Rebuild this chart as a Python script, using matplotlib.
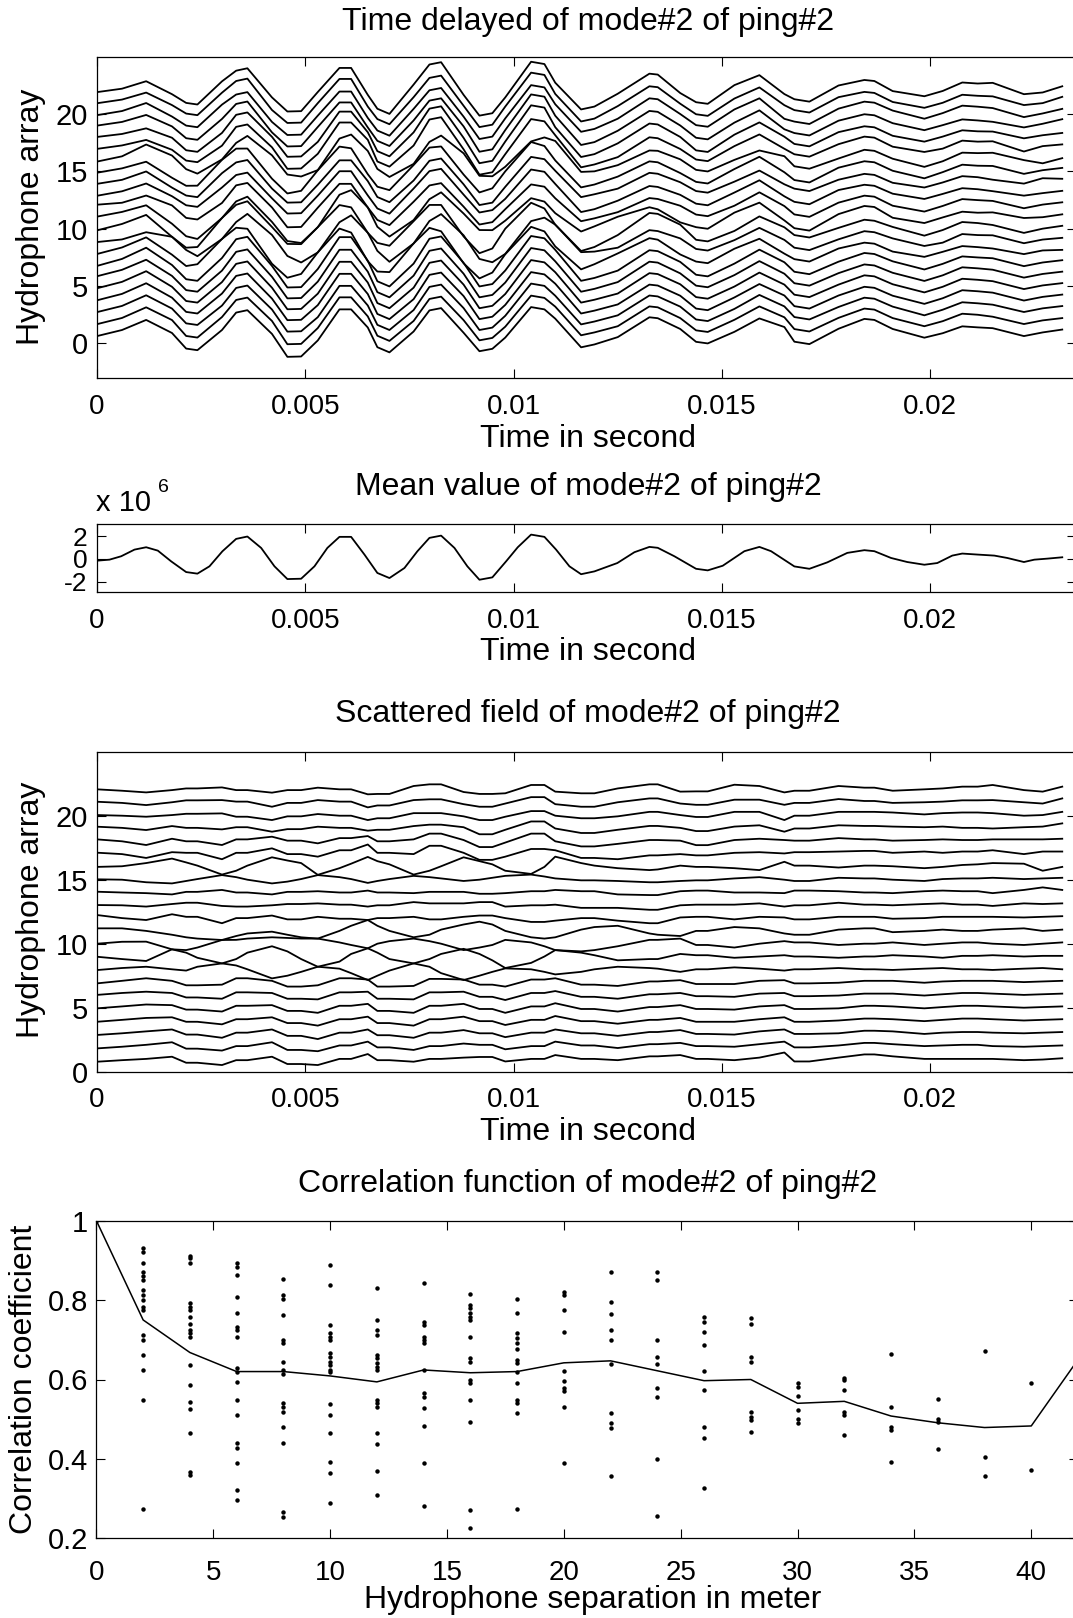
import matplotlib
matplotlib.use("Agg")
import matplotlib.pyplot as plt

W, H = 1073, 1618
plt.rcParams['font.family'] = ['Liberation Sans', 'DejaVu Sans']

# time grid (s) used for the stacked hydrophone traces
trace_time = [0, 0.0006, 0.00118, 0.0018, 0.00214, 0.00241, 0.003, 0.00334, 0.00361, 0.0042,
              0.00457, 0.0049, 0.0053, 0.00582, 0.0061, 0.0065, 0.00673, 0.00702, 0.0076, 0.00798,
              0.00826, 0.0088, 0.00918, 0.00949, 0.0098, 0.01042, 0.01074, 0.011, 0.01162, 0.01194,
              0.0125, 0.01326, 0.01346, 0.014, 0.01438, 0.01466, 0.0153, 0.0159, 0.0165, 0.01674,
              0.0171, 0.0178, 0.01842, 0.01866, 0.0191, 0.01986, 0.0203, 0.02077, 0.02114, 0.0215,
              0.02225, 0.0227, 0.02317]
# mean of mode#2 (x 10^6) on that grid
trace_mean = [-0.15, 0.26, 1.04, -0.27, -1.16, -1.30, 0.64, 1.78, 1.99, -0.35,
              -1.78, -1.75, -0.27, 1.96, 1.96, 0.0, -1.24, -1.69, 0.25, 1.87,
              2.07, -0.18, -1.84, -1.63, -0.3, 2.16, 1.96, 0.85, -1.35, -1.10,
              -0.36, 1.07, 0.99, -0.05, -0.87, -1.01, 0.1, 1.07, -0.08, -0.66,
              -0.87, 0.17, 0.78, 0.69, 0.05, -0.51, -0.12, 0.48, 0.39, 0.32,
              -0.27, 0.0, 0.15]

hydrophones = list(range(1, 23))
# scattered field (trace minus mean) of each hydrophone, bottom (1) to top (22)
scatter_resid = [
    [-0.22, -0.1, 0.0, 0.17, -0.3, -0.3, -0.48, -0.1, -0.1, 0.17, -0.4, -0.4, -0.48, 0.0, 0.0, 0.38, -0.1, -0.1, -0.22, 0.0, 0.0, 0.1, 0.15, 0.15, -0.2, 0.0, 0.0, 0.3, 0.0, 0.0, -0.1, 0.2, 0.2, 0.3, 0.0, 0.0, -0.1, 0.1, 0.5, -0.2, -0.2, 0.1, 0.35, 0.35, 0.2, 0.0, 0.0, 0.0, 0.0, 0.0, -0.1, -0.05, 0.05],
    [-0.18, -0.05, 0.1, 0.3, -0.2, -0.2, -0.35, 0.0, 0.0, 0.3, -0.3, -0.3, -0.4, 0.05, 0.05, 0.35, -0.1, -0.1, -0.3, 0.0, 0.0, 0.2, 0.1, 0.1, -0.25, 0.0, 0.0, 0.35, 0.05, 0.05, -0.15, 0.15, 0.15, 0.25, 0.0, 0.0, -0.05, 0.15, 0.35, -0.1, -0.1, 0.05, 0.25, 0.25, 0.15, 0.0, 0.05, 0.1, 0.1, 0.0, -0.05, 0.0, 0.05],
    [-0.13, 0.0, 0.15, 0.3, -0.1, -0.1, -0.35, 0.05, 0.05, 0.3, -0.2, -0.2, -0.45, 0.05, 0.05, 0.3, -0.15, -0.15, -0.35, 0.05, 0.05, 0.25, 0.0, 0.0, -0.3, 0.05, 0.05, 0.3, 0.0, 0.0, -0.2, 0.1, 0.1, 0.25, -0.05, -0.05, -0.1, 0.15, 0.3, -0.05, -0.05, 0.0, 0.2, 0.2, 0.15, -0.05, 0.05, 0.1, 0.1, 0.05, 0.0, 0.05, 0.1],
    [-0.1, 0.05, 0.2, 0.25, -0.1, -0.1, -0.3, 0.1, 0.1, 0.25, -0.2, -0.2, -0.4, 0.1, 0.1, 0.3, -0.2, -0.2, -0.4, 0.1, 0.1, 0.3, -0.05, -0.05, -0.35, 0.05, 0.05, 0.35, -0.05, -0.05, -0.25, 0.05, 0.05, 0.2, -0.1, -0.1, -0.1, 0.1, 0.25, -0.1, -0.1, 0.0, 0.15, 0.15, 0.1, -0.05, 0.05, 0.15, 0.15, 0.1, 0.0, 0.05, 0.1],
    [-0.05, 0.1, 0.25, 0.2, -0.15, -0.15, -0.3, 0.15, 0.15, 0.2, -0.25, -0.25, -0.4, 0.15, 0.15, 0.3, -0.25, -0.25, -0.4, 0.15, 0.15, 0.3, -0.1, -0.1, -0.4, 0.1, 0.1, 0.35, -0.1, -0.1, -0.3, 0.05, 0.05, 0.2, -0.1, -0.1, -0.15, 0.1, 0.2, -0.1, -0.1, -0.05, 0.15, 0.15, 0.1, -0.05, 0.05, 0.15, 0.15, 0.1, 0.0, 0.05, 0.1],
    [0.0, 0.15, 0.25, 0.15, -0.2, -0.2, -0.3, 0.2, 0.2, 0.15, -0.3, -0.3, -0.35, 0.2, 0.2, 0.25, -0.3, -0.3, -0.35, 0.2, 0.2, 0.25, -0.15, -0.15, -0.4, 0.15, 0.15, 0.3, -0.15, -0.15, -0.3, 0.05, 0.05, 0.15, -0.1, -0.1, -0.15, 0.1, 0.15, -0.1, -0.1, -0.05, 0.1, 0.1, 0.1, -0.05, 0.05, 0.15, 0.15, 0.1, 0.0, 0.05, 0.1],
    [-0.1, 0.1, 0.3, 0.1, -0.25, -0.25, -0.2, 0.3, 0.3, 0.1, -0.35, -0.35, -0.25, 0.3, 0.3, 0.2, -0.35, -0.35, -0.3, 0.25, 0.25, 0.2, -0.2, -0.2, -0.35, 0.2, 0.2, 0.3, -0.2, -0.2, -0.3, 0.05, 0.05, 0.15, -0.15, -0.15, -0.15, 0.1, 0.15, -0.1, -0.1, -0.05, 0.1, 0.1, 0.1, -0.05, 0.05, 0.1, 0.1, 0.1, 0.0, 0.05, 0.1],
    [-0.06, 0.1, 0.2, 0.0, -0.1, 0.2, 0.46, 0.3, 0.0, -0.71, -0.5, -0.2, 0.2, 0.05, -0.3, -0.84, -0.5, -0.1, 0.46, 0.2, -0.3, -0.84, -0.5, -0.2, 0.07, 0.0, -0.2, -0.4, -0.2, 0.0, 0.2, 0.1, 0.05, -0.2, 0.0, 0.0, 0.15, 0.05, -0.1, 0.0, 0.0, 0.1, 0.0, 0.0, -0.05, 0.05, 0.1, 0.0, 0.0, -0.05, 0.05, 0.1, 0.0],
    [-0.02, -0.2, -0.35, 0.56, 0.3, -0.1, -0.54, -0.2, 0.3, 0.8, 0.4, -0.2, -0.8, -0.4, 0.2, 0.64, 0.3, -0.2, -0.54, -0.2, 0.2, 0.6, 0.2, -0.3, -0.9, -0.5, 0.0, 0.5, 0.3, 0.1, -0.3, -0.2, -0.2, 0.2, 0.1, 0.1, -0.1, 0.0, 0.1, 0.0, 0.0, -0.1, 0.0, 0.0, 0.1, 0.0, -0.1, 0.05, 0.05, 0.1, 0.0, 0.05, 0.05],
    [0.0, 0.15, 0.16, -0.44, -0.5, -0.3, 0.29, 0.6, 0.8, 0.94, 0.7, 0.5, 0.4, 0.1, -0.1, -0.36, 0.0, 0.2, 0.4, 0.2, 0.0, -0.5, -0.3, -0.1, 0.3, 0.1, -0.2, -0.5, -0.6, -0.5, -0.2, 0.3, 0.3, 0.4, -0.1, -0.1, -0.3, 0.0, 0.2, 0.1, 0.1, -0.1, 0.0, 0.0, 0.1, -0.1, 0.0, 0.1, 0.1, 0.0, -0.1, 0.0, 0.1],
    [0.2, 0.2, 0.0, -0.3, -0.5, -0.6, -0.71, -0.7, -0.6, -0.5, -0.55, -0.6, -0.6, 0.0, 0.4, 0.85, 0.4, 0.0, -0.5, -0.3, 0.1, 0.5, 0.72, 0.5, 0.0, -0.5, -0.6, -0.5, 0.1, 0.3, 0.4, -0.2, -0.3, -0.4, 0.0, 0.0, 0.3, 0.2, -0.2, -0.3, -0.3, 0.1, 0.2, 0.2, -0.1, 0.0, 0.1, 0.0, 0.0, 0.1, 0.2, 0.0, 0.1],
    [0.24, 0.0, -0.15, 0.3, 0.1, 0.1, -0.4, 0.0, 0.0, 0.2, -0.1, -0.1, 0.1, -0.05, -0.05, -0.15, 0.0, 0.0, 0.1, -0.1, -0.1, 0.1, 0.2, 0.2, 0.0, -0.3, -0.3, -0.2, 0.0, 0.0, -0.2, -0.4, -0.4, 0.05, 0.1, 0.1, -0.1, 0.1, 0.05, -0.1, -0.1, 0.1, 0.1, 0.1, -0.05, 0.0, 0.1, 0.1, 0.1, 0.1, 0.05, 0.1, 0.15],
    [0.02, 0.0, -0.1, 0.1, 0.2, 0.2, -0.05, -0.1, -0.1, 0.0, 0.1, 0.1, 0.15, 0.05, 0.05, -0.1, 0.0, 0.0, 0.25, 0.15, 0.15, 0.15, 0.25, 0.25, -0.1, 0.0, 0.0, 0.05, -0.2, -0.2, -0.2, -0.35, -0.35, 0.0, 0.05, 0.05, 0.05, 0.15, -0.1, 0.0, 0.0, 0.2, 0.05, 0.05, 0.0, 0.1, 0.15, 0.05, 0.05, -0.05, 0.15, 0.1, 0.15],
    [0.06, 0.0, -0.05, -0.15, 0.05, 0.05, 0.2, 0.0, 0.0, -0.15, 0.05, 0.05, 0.1, 0.0, 0.0, 0.15, 0.0, 0.0, -0.05, 0.05, 0.05, 0.05, -0.1, -0.1, -0.05, 0.1, 0.1, 0.2, 0.1, 0.1, -0.15, -0.2, -0.2, 0.1, 0.15, 0.15, 0.0, 0.0, -0.05, 0.15, 0.15, 0.1, 0.0, 0.0, -0.05, 0.1, 0.15, 0.1, 0.1, -0.05, 0.2, 0.4, 0.2],
    [0.03, 0.0, -0.2, -0.29, -0.1, 0.05, 0.36, 0.2, 0.0, -0.29, -0.15, 0.05, 0.36, 0.2, 0.05, -0.25, -0.1, 0.05, 0.3, 0.2, 0.1, -0.1, 0.0, 0.15, 0.3, 0.4, 0.25, 0.1, -0.05, -0.05, -0.1, -0.2, -0.2, -0.1, -0.05, -0.05, 0.1, 0.2, 0.0, -0.1, -0.1, 0.15, 0.1, 0.1, 0.0, -0.1, 0.05, 0.1, 0.1, 0.15, 0.05, 0.1, 0.15],
    [0.0, 0.05, 0.3, 0.65, 0.35, 0.1, -0.6, -0.3, 0.1, 0.75, 0.5, 0.3, -0.62, -0.1, 0.25, 0.78, 0.45, 0.2, -0.6, -0.3, 0.05, 0.75, 0.45, 0.2, -0.3, -0.55, 0.0, 0.8, 0.3, 0.1, -0.1, -0.25, -0.2, 0.1, 0.0, 0.0, -0.1, -0.25, 0.4, 0.1, 0.1, -0.05, 0.1, 0.1, 0.05, -0.1, 0.0, 0.15, 0.2, 0.3, 0.25, -0.3, 0.0],
    [0.11, 0.0, -0.3, 0.15, 0.1, 0.1, -0.4, 0.1, 0.1, 0.45, 0.0, 0.0, -0.2, 0.3, 0.3, 0.75, 0.1, 0.1, 0.0, 0.65, 0.65, 0.1, -0.45, -0.45, -0.2, 0.4, 0.4, 0.3, -0.3, -0.3, -0.4, -0.1, -0.1, 0.0, -0.1, -0.1, 0.1, 0.15, 0.05, 0.15, 0.15, 0.2, 0.25, 0.25, 0.1, 0.2, 0.1, 0.2, 0.2, 0.3, 0.0, 0.2, 0.2],
    [0.15, 0.0, -0.29, 0.2, 0.0, 0.0, -0.29, 0.15, 0.15, 0.36, 0.05, 0.05, -0.16, 0.25, 0.25, 0.41, 0.0, 0.0, 0.15, 0.6, 0.6, 0.1, -0.45, -0.45, -0.1, 0.6, 0.6, 0.0, -0.4, -0.4, -0.2, 0.1, 0.1, 0.05, -0.3, -0.3, 0.1, 0.2, 0.1, 0.05, 0.05, 0.25, 0.15, 0.15, 0.05, 0.1, 0.15, 0.1, 0.1, 0.15, 0.15, 0.15, 0.2],
    [0.14, 0.05, -0.12, 0.19, 0.05, 0.05, -0.07, 0.1, 0.1, -0.25, -0.05, -0.05, 0.14, 0.05, 0.05, -0.17, -0.1, -0.1, 0.19, 0.3, 0.3, 0.1, -0.45, -0.45, -0.1, 0.55, 0.55, 0.0, -0.35, -0.35, -0.1, 0.2, 0.2, 0.05, -0.2, -0.2, 0.15, 0.25, -0.25, 0.0, 0.0, 0.25, 0.2, 0.2, 0.15, 0.1, 0.15, 0.05, 0.05, 0.0, 0.1, 0.15, 0.4],
    [0.05, 0.0, -0.08, 0.05, 0.15, 0.15, 0.18, -0.08, -0.08, -0.34, -0.05, -0.05, 0.13, 0.0, 0.0, -0.34, -0.2, -0.2, 0.2, 0.2, 0.2, -0.05, -0.34, -0.34, -0.08, 0.36, 0.36, 0.0, -0.2, -0.2, -0.05, 0.3, 0.3, 0.05, -0.1, -0.1, 0.3, 0.3, -0.34, 0.0, 0.0, 0.3, 0.3, 0.3, 0.25, 0.1, 0.2, 0.25, 0.25, 0.2, 0.0, 0.05, 0.3],
    [0.09, 0.0, -0.17, 0.05, 0.2, 0.2, 0.22, 0.1, 0.1, -0.3, 0.0, 0.0, 0.22, 0.1, 0.1, -0.35, -0.2, -0.2, 0.22, 0.28, 0.28, -0.1, -0.3, -0.3, -0.05, 0.45, 0.45, -0.1, -0.3, -0.3, 0.05, 0.35, 0.35, -0.05, -0.15, -0.15, 0.25, 0.25, -0.15, 0.0, 0.0, 0.3, 0.15, 0.15, 0.0, 0.05, 0.1, 0.2, 0.2, 0.22, 0.05, -0.05, 0.35],
    [0.06, -0.05, -0.18, 0.0, 0.13, 0.13, 0.21, 0.0, 0.0, -0.2, 0.0, 0.0, 0.19, 0.06, 0.06, -0.33, -0.3, -0.3, 0.32, 0.45, 0.45, -0.15, -0.3, -0.3, -0.25, 0.4, 0.4, -0.12, -0.25, -0.25, 0.13, 0.45, 0.45, -0.12, -0.1, -0.1, 0.42, 0.32, -0.18, -0.05, -0.05, 0.32, 0.19, 0.19, -0.05, 0.06, 0.13, 0.27, 0.27, 0.4, 0.0, -0.12, 0.27],
]

# mean value curve (x 10^6), finer sampling
mean_time = [0, 0.0003, 0.00058, 0.0009, 0.00118, 0.00146, 0.00178, 0.00214, 0.00241, 0.0027,
             0.00301, 0.00334, 0.00361, 0.00394, 0.00426, 0.00457, 0.0049, 0.00522, 0.00553, 0.00582,
             0.0061, 0.00642, 0.00673, 0.00702, 0.00738, 0.00769, 0.00798, 0.00826, 0.00858, 0.00889,
             0.00918, 0.00949, 0.00982, 0.0101, 0.01042, 0.01074, 0.01102, 0.01134, 0.01162, 0.01194,
             0.01249, 0.0129, 0.01326, 0.01346, 0.01386, 0.01438, 0.01466, 0.01502, 0.01554, 0.0159,
             0.01618, 0.01674, 0.0171, 0.01753, 0.01801, 0.01842, 0.01866, 0.01906, 0.01945, 0.01986,
             0.02017, 0.02053, 0.02077, 0.02114, 0.02154, 0.02185, 0.02225, 0.0225, 0.02281, 0.02317]
mean_value = [-0.15, -0.06, 0.24, 0.83, 1.04, 0.74, -0.21, -1.16, -1.30, -0.65,
              0.68, 1.78, 1.99, 0.98, -0.65, -1.78, -1.75, -0.65, 0.98, 1.96,
              1.96, 0.39, -1.24, -1.69, -0.8, 0.68, 1.87, 2.07, 0.98, -0.65,
              -1.84, -1.63, -0.21, 1.04, 2.16, 1.96, 0.83, -0.65, -1.35, -1.10,
              -0.36, 0.60, 1.07, 0.99, 0.24, -0.87, -1.01, -0.60, 0.69, 1.07,
              0.69, -0.66, -0.87, -0.30, 0.54, 0.78, 0.69, 0.09, -0.27, -0.51,
              -0.36, 0.30, 0.48, 0.39, 0.30, 0.09, -0.27, -0.06, 0.03, 0.15]

# correlation vs separation
sep_line = list(range(0, 43, 2))
corr_mean = [1.0, 0.750, 0.668, 0.620, 0.620, 0.609, 0.594, 0.624, 0.617, 0.620, 0.642,
             0.647, 0.622, 0.597, 0.600, 0.540, 0.545, 0.508, 0.491, 0.479, 0.483, 0.65]
sep_points = list(range(0, 41, 2))
corr_points = [
    [1.0],
    [0.930, 0.922, 0.893, 0.872, 0.861, 0.851, 0.825, 0.813, 0.800, 0.783, 0.775, 0.712, 0.699, 0.662, 0.624, 0.548, 0.273],
    [0.911, 0.905, 0.893, 0.792, 0.783, 0.775, 0.758, 0.741, 0.725, 0.716, 0.708, 0.636, 0.586, 0.544, 0.525, 0.464, 0.368, 0.359],
    [0.893, 0.884, 0.863, 0.809, 0.767, 0.733, 0.725, 0.708, 0.628, 0.620, 0.594, 0.548, 0.510, 0.439, 0.428, 0.389, 0.322, 0.296],
    [0.852, 0.813, 0.804, 0.762, 0.699, 0.691, 0.645, 0.624, 0.615, 0.542, 0.531, 0.519, 0.481, 0.439, 0.267, 0.254],
    [0.888, 0.838, 0.737, 0.716, 0.708, 0.699, 0.666, 0.657, 0.645, 0.636, 0.624, 0.620, 0.538, 0.510, 0.464, 0.393, 0.364, 0.290],
    [0.830, 0.750, 0.725, 0.712, 0.662, 0.653, 0.641, 0.632, 0.624, 0.548, 0.540, 0.531, 0.464, 0.437, 0.370, 0.309],
    [0.844, 0.746, 0.737, 0.708, 0.699, 0.691, 0.624, 0.565, 0.557, 0.527, 0.483, 0.389, 0.281],
    [0.815, 0.788, 0.779, 0.767, 0.758, 0.750, 0.708, 0.653, 0.645, 0.599, 0.591, 0.548, 0.494, 0.271, 0.225],
    [0.804, 0.767, 0.716, 0.704, 0.691, 0.678, 0.649, 0.641, 0.620, 0.590, 0.548, 0.540, 0.515, 0.275],
    [0.821, 0.812, 0.775, 0.720, 0.622, 0.595, 0.578, 0.570, 0.531, 0.389],
    [0.871, 0.795, 0.766, 0.724, 0.699, 0.640, 0.515, 0.490, 0.477, 0.357],
    [0.871, 0.850, 0.699, 0.657, 0.640, 0.578, 0.557, 0.401, 0.255],
    [0.758, 0.745, 0.720, 0.686, 0.622, 0.573, 0.481, 0.452, 0.326],
    [0.754, 0.741, 0.657, 0.645, 0.519, 0.506, 0.498, 0.469],
    [0.590, 0.582, 0.558, 0.523, 0.500, 0.491],
    [0.604, 0.598, 0.573, 0.519, 0.511, 0.460],
    [0.664, 0.530, 0.481, 0.474, 0.393],
    [0.550, 0.500, 0.494, 0.424],
    [0.672, 0.406, 0.357],
    [0.590, 0.372],
]

time_ticks = [0, 0.005, 0.01, 0.015, 0.02]
time_labels = ['0', '0.005', '0.01', '0.015', '0.02']
level_ticks = [0, 5, 10, 15, 20]

fig = plt.figure(figsize=(W / 100, H / 100), dpi=100)


# axes placed in pixel coords of the original page (right edge runs off the page)
def px_axes(left, top, right, bottom):
    return fig.add_axes([left / W, 1 - bottom / H, (right - left) / W, (bottom - top) / H])


def px_text(x, y, s, **kw):
    kw.setdefault('ha', 'center')
    kw.setdefault('va', 'center')
    kw.setdefault('fontsize', 23)
    fig.text(x / W, 1 - y / H, s, **kw)


def style(ax, xpad, ypad, xsize=20, ysize=21):
    ax.tick_params(direction='in', length=6.5, width=0.8, top=True, right=True)
    ax.tick_params(axis='x', labelsize=xsize, pad=xpad)
    ax.tick_params(axis='y', labelsize=ysize, pad=ypad)
    for sp in ax.spines.values():
        sp.set_linewidth(0.9)


# time delayed traces
ax1 = px_axes(97, 56.7, 1076, 377.7)
for n, resid in zip(hydrophones, scatter_resid):
    ax1.plot(trace_time, [n + m + r for m, r in zip(trace_mean, resid)], color='black', lw=1.3)
ax1.set_xlim(0, 0.0235)
ax1.set_ylim(-3, 25)
ax1.set_xticks(time_ticks, time_labels)
ax1.set_yticks(level_ticks)
style(ax1, 11.8, 6.6)
px_text(588, 22, 'Time delayed of mode#2 of ping#2')
px_text(588, 439, 'Time in second')
px_text(31, 217, 'Hydrophone array', rotation=90)

# mean value
ax2 = px_axes(97, 524, 1076, 591.7)
ax2.plot(mean_time, mean_value, color='black', lw=1.3)
ax2.set_xlim(0, 0.0235)
ax2.set_ylim(-2.9, 3.1)
ax2.set_xticks(time_ticks, time_labels)
ax2.set_yticks([-2, 0, 2], ['-2', '0', '2'])
style(ax2, 11.8, 7, ysize=19)
px_text(588, 487, 'Mean value of mode#2 of ping#2')
px_text(588, 652, 'Time in second')
px_text(96, 503, 'x 10', ha='left', fontsize=21)
px_text(158, 488, '6', ha='left', fontsize=14)

# scattered field
ax3 = px_axes(97, 751.7, 1076, 1071.7)
for n, resid in zip(hydrophones, scatter_resid):
    ax3.plot(trace_time, [n + r for r in resid], color='black', lw=1.3)
ax3.set_xlim(0, 0.0235)
ax3.set_ylim(0, 25)
ax3.set_xticks(time_ticks, time_labels)
ax3.set_yticks(level_ticks)
style(ax3, 10.8, 6.6)
px_text(588, 714, 'Scattered field of mode#2 of ping#2')
px_text(588, 1132, 'Time in second')
px_text(31, 910, 'Hydrophone array', rotation=90)

# correlation function
ax4 = px_axes(96.4, 1220.7, 1078, 1538.3)
ax4.plot(sep_line, corr_mean, color='black', lw=1.1)
for s, pts in zip(sep_points, corr_points):
    ax4.plot([s] * len(pts), pts, linestyle='none', marker='o', ms=3.2, mew=0, color='black')
ax4.set_xlim(0, 42)
ax4.set_ylim(0.2, 1)
ax4.set_xticks(list(range(0, 41, 5)))
ax4.set_yticks([0.2, 0.4, 0.6, 0.8, 1.0], ['0.2', '0.4', '0.6', '0.8', '1'])
style(ax4, 15.6, 6.2)
px_text(588, 1184, 'Correlation function of mode#2 of ping#2')
px_text(593, 1600, 'Hydrophone separation in meter')
px_text(24, 1379, 'Correlation coefficient', rotation=90)

fig.savefig('out.png', dpi=100)
